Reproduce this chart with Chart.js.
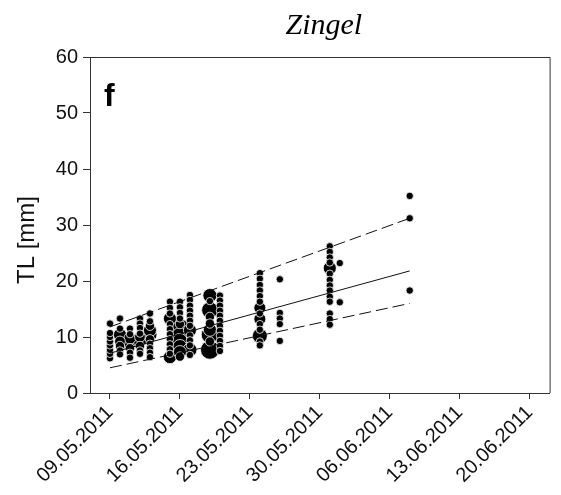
<!DOCTYPE html>
<html lang="de">
<head>
    <meta charset="UTF-8">
    <title>Zingel</title>
    <script src="https://cdn.jsdelivr.net/npm/chart.js"></script>
    <style>
        body {
            margin: 0;
            background-color: #ffffff;
        }
        #chart {
            display: block;
        }
    </style>
</head>
<body>
    <canvas id="chart" width="561" height="495"></canvas>
    <script>
        // sampling dates and TL (mm) of fish caught on each date, with number of fish per TL value
        const sampleDates = ['09.05.2011', '10.05.2011', '11.05.2011', '12.05.2011', '13.05.2011',
            '15.05.2011', '16.05.2011', '17.05.2011', '19.05.2011', '20.05.2011',
            '24.05.2011', '26.05.2011', '31.05.2011', '01.06.2011', '08.06.2011'];
        const tlValues = [
            [6.2, 7.0, 7.7, 8.5, 9.2, 10.0, 10.7, 12.4],
            [13.3, 11.5, 10.4, 9.2, 8.4, 7.6, 6.9],
            [11.5, 10.5, 9.8, 8.9, 8.0, 7.2, 6.3],
            [13.3, 12.4, 11.6, 10.6, 10.0, 9.2, 8.4, 7.6, 7.0],
            [14.2, 12.8, 12.0, 11.2, 10.4, 9.6, 8.8, 8.0, 7.2, 6.4],
            [16.3, 15.2, 14.2, 13.3, 12.3, 11.4, 10.5, 9.6, 8.7, 7.8, 7.0, 6.4],
            [16.3, 15.3, 14.3, 13.3, 12.3, 11.3, 10.3, 9.3, 8.3, 7.3, 6.5],
            [17.5, 16.6, 15.6, 14.7, 13.8, 12.9, 12.0, 11.2, 10.3, 9.4, 8.5, 7.7, 6.8],
            [17.4, 16.4, 14.8, 13.6, 12.4, 11.3, 10.4, 9.2, 7.7],
            [17.4, 16.5, 15.6, 14.7, 13.8, 12.9, 12.0, 11.1, 10.2, 9.3, 8.4, 7.5],
            [21.4, 20.4, 19.3, 18.3, 17.3, 16.3, 15.2, 14.2, 13.2, 12.3, 11.3, 10.2, 9.2, 8.5],
            [20.3, 14.3, 13.3, 12.3, 9.3],
            [26.2, 25.2, 24.2, 23.3, 22.3, 21.3, 20.2, 19.2, 18.3, 17.2, 16.3, 14.2, 13.2, 12.2],
            [23.2, 16.2],
            [35.2, 31.2, 18.3]
        ];
        const fishCounts = [
            [1, 1, 1, 1, 1, 1, 1, 1],
            [1, 1, 5, 3, 2, 1, 1],
            [1, 1, 4, 7, 2, 1, 1],
            [1, 1, 1, 1, 3, 5, 2, 1, 1],
            [1, 1, 2, 5, 6, 2, 1, 1, 1, 1],
            [1, 1, 1, 5, 1, 1, 1, 1, 1, 1, 1, 5],
            [1, 1, 1, 1, 2, 16, 8, 7, 6, 5, 2],
            [1, 1, 1, 1, 1, 1, 1, 5, 1, 1, 1, 6, 1],
            [6, 1, 9, 2, 2, 5, 10, 2, 12],
            [1, 1, 1, 1, 1, 1, 1, 1, 1, 1, 1, 1],
            [1, 1, 1, 1, 1, 1, 4, 1, 4, 1, 1, 7, 1, 1],
            [1, 1, 1, 1, 1],
            [1, 1, 1, 1, 5, 1, 1, 1, 1, 1, 1, 1, 1, 1],
            [1, 1],
            [1, 1, 1]
        ];

        // growth regression (days after 09.05.2011) with upper and lower bounds
        const fitDays = [0, 30];
        const fitMean = [7.1, 21.8];
        const fitUpper = [11.8, 31.2];
        const fitLower = [4.5, 16.0];

        const xTickLabels = ['09.05.2011', '16.05.2011', '23.05.2011', '30.05.2011',
            '06.06.2011', '13.06.2011', '20.06.2011'];
        const yTicks = [0, 10, 20, 30, 40, 50, 60];

        const DAY = 86400000;
        const toTime = s => {
            const [d, m, y] = s.split('.').map(Number);
            return Date.UTC(y, m - 1, d);
        };
        const baseTime = toTime(xTickLabels[0]);
        const toDay = s => (toTime(s) - baseTime) / DAY;

        const points = [];
        sampleDates.forEach((date, i) => {
            tlValues[i].forEach((tl, j) => {
                points.push({ x: toDay(date), y: tl, n: fishCounts[i][j] });
            });
        });
        // draw big bubbles first so the smaller ones stay visible on top
        points.sort((a, b) => b.n - a.n);

        const radius = n => 1.4 + 2.3 * Math.sqrt(n);
        const fitLine = vals => fitDays.map((d, i) => ({ x: d, y: vals[i] }));

        const axisFont = { family: 'Arial, "Liberation Sans", sans-serif', size: 20 };

        const extras = {
            id: 'extras',
            afterDraw(chart) {
                const { ctx, chartArea } = chart;
                ctx.save();
                ctx.strokeStyle = '#333';
                ctx.lineWidth = 1;
                ctx.beginPath();
                ctx.moveTo(chartArea.left, chartArea.top + 0.5);
                ctx.lineTo(chartArea.right + 0.5, chartArea.top + 0.5);
                ctx.lineTo(chartArea.right + 0.5, chartArea.bottom);
                ctx.stroke();

                ctx.fillStyle = '#000';
                ctx.textAlign = 'center';
                ctx.textBaseline = 'alphabetic';
                ctx.font = 'italic 30px "Liberation Serif", "Times New Roman", serif';
                ctx.fillText('Zingel', (chartArea.left + chartArea.right) / 2 + 4, 34);

                ctx.textAlign = 'left';
                ctx.font = 'bold 32px Arial, "Liberation Sans", sans-serif';
                ctx.fillText('f', 104, 106);

                ctx.translate(27, 240);
                ctx.rotate(-Math.PI / 2);
                ctx.textAlign = 'center';
                ctx.textBaseline = 'middle';
                ctx.font = '24px Arial, "Liberation Sans", sans-serif';
                ctx.fillStyle = '#111';
                ctx.fillText('TL [mm]', 0, 0);
                ctx.restore();
            }
        };

        new Chart(document.getElementById('chart').getContext('2d'), {
            type: 'scatter',
            data: {
                datasets: [
                    {
                        label: 'TL',
                        data: points,
                        backgroundColor: '#000',
                        borderColor: '#fff',
                        borderWidth: 0.8,
                        pointRadius: c => radius(c.raw.n),
                        order: 2
                    },
                    {
                        label: 'Regression',
                        type: 'line',
                        data: fitLine(fitMean),
                        borderColor: '#111',
                        borderWidth: 1,
                        pointRadius: 0,
                        order: 1
                    },
                    {
                        label: 'Obere Grenze',
                        type: 'line',
                        data: fitLine(fitUpper),
                        borderColor: '#111',
                        borderWidth: 1,
                        borderDash: [12, 5],
                        pointRadius: 0,
                        order: 1
                    },
                    {
                        label: 'Untere Grenze',
                        type: 'line',
                        data: fitLine(fitLower),
                        borderColor: '#111',
                        borderWidth: 1,
                        borderDash: [12, 5],
                        pointRadius: 0,
                        order: 1
                    }
                ]
            },
            options: {
                responsive: false,
                animation: false,
                layout: {
                    padding: { top: 57, right: 6, left: 0, bottom: 0 }
                },
                plugins: {
                    legend: { display: false },
                    tooltip: { enabled: false }
                },
                scales: {
                    x: {
                        type: 'linear',
                        min: -2,
                        max: 44,
                        afterBuildTicks: axis => {
                            axis.ticks = xTickLabels.map(l => ({ value: toDay(l) }));
                        },
                        afterFit: scale => { scale.height = 102; },
                        grid: {
                            display: true,
                            drawOnChartArea: false,
                            drawTicks: true,
                            tickLength: 6,
                            color: '#333'
                        },
                        border: { display: true, color: '#333' },
                        ticks: {
                            autoSkip: false,
                            minRotation: 45,
                            maxRotation: 45,
                            padding: 2,
                            color: '#111',
                            font: axisFont,
                            callback: (v, i) => xTickLabels[i]
                        }
                    },
                    y: {
                        min: 0,
                        max: 60,
                        afterBuildTicks: axis => {
                            axis.ticks = yTicks.map(v => ({ value: v }));
                        },
                        afterFit: scale => { scale.width = 90; },
                        grid: {
                            display: true,
                            drawOnChartArea: false,
                            drawTicks: true,
                            tickLength: 7,
                            color: '#333'
                        },
                        border: { display: true, color: '#333' },
                        ticks: {
                            padding: 5,
                            color: '#111',
                            font: axisFont
                        }
                    }
                }
            },
            plugins: [extras]
        });
    </script>
</body>
</html>
